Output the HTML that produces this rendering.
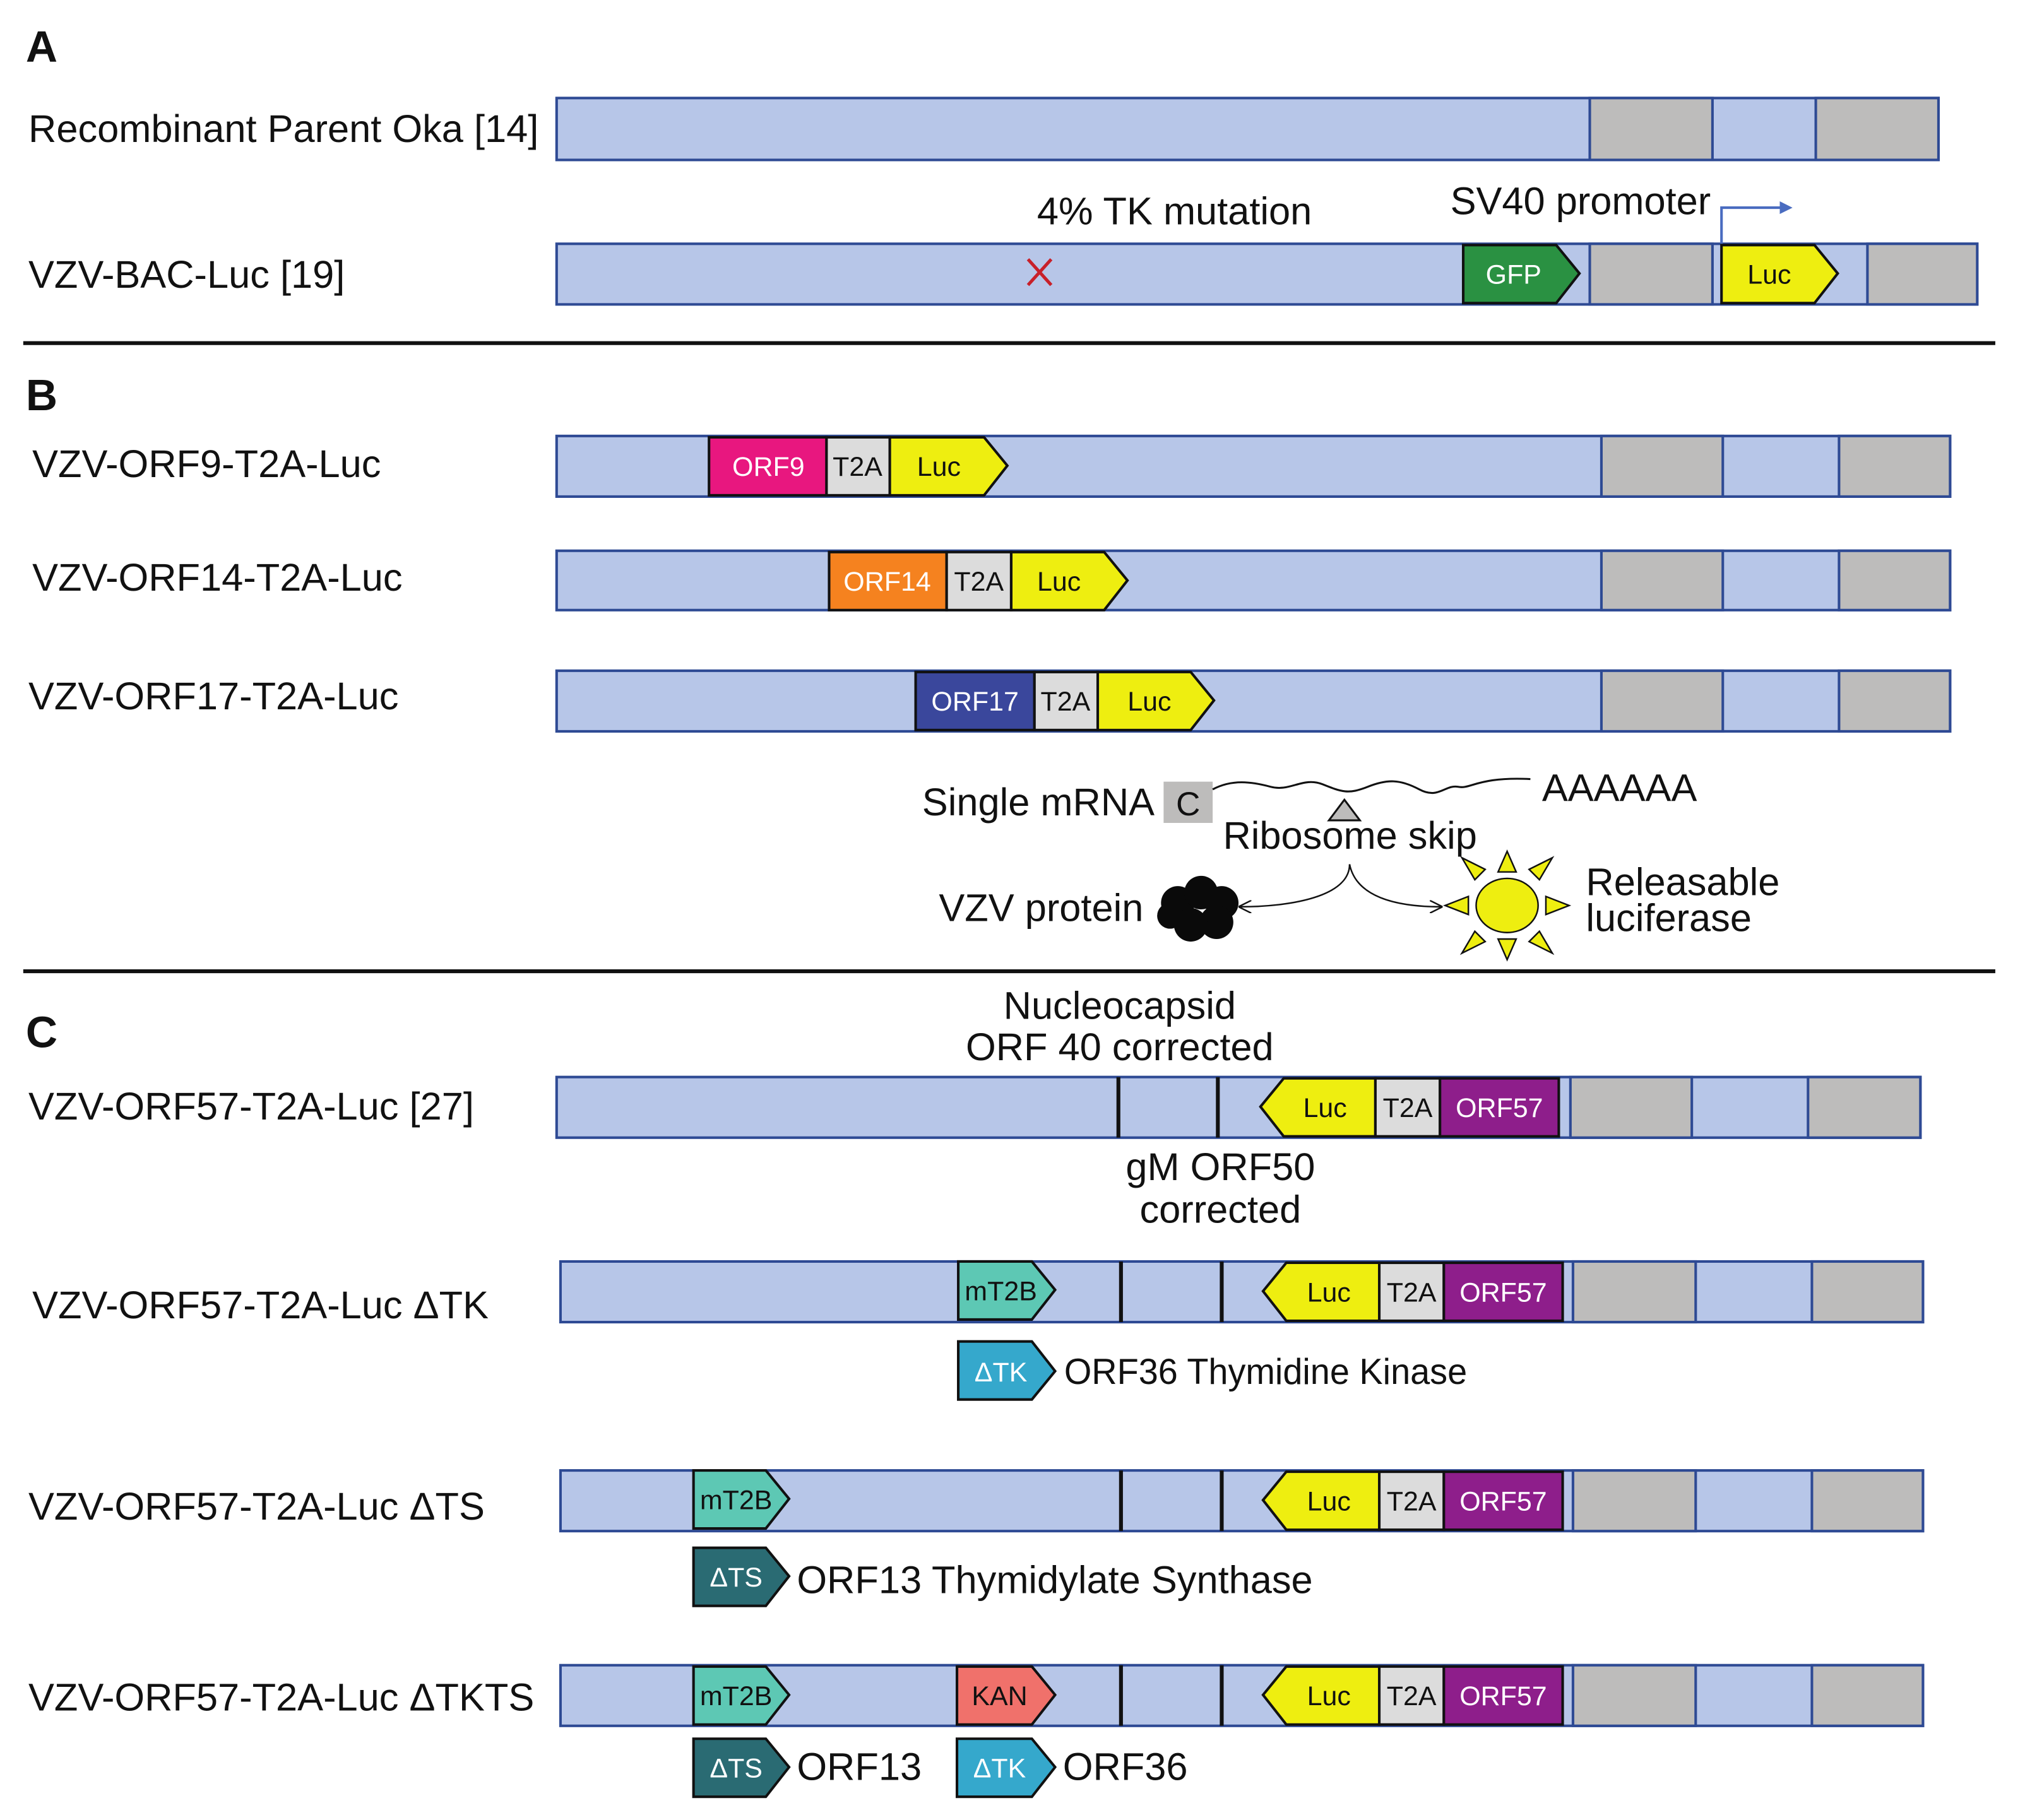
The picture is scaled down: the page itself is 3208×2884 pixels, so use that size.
<!DOCTYPE html>
<html><head><meta charset="utf-8"><style>html,body{margin:0;padding:0;background:#fff}svg{display:block}text{font-family:"Liberation Sans",sans-serif;fill:#111}</style></head><body>
<svg width="3208" height="2884" viewBox="0 0 1568 1411" preserveAspectRatio="none" xmlns="http://www.w3.org/2000/svg">
<defs>
<marker id="ah" markerWidth="10" markerHeight="10" refX="9" refY="5" orient="auto" markerUnits="userSpaceOnUse"><path d="M0,0 L10,5 L0,10" fill="none" stroke="#111" stroke-width="1.2"/></marker>
<marker id="bh" markerWidth="10" markerHeight="10" refX="8" refY="5" orient="auto" markerUnits="userSpaceOnUse"><path d="M0,0 L10,5 L0,10 z" fill="#4a6cc0"/></marker>
</defs>
<g stroke="#2e4a94" stroke-width="2">
<rect x="431" y="76" width="1070" height="48" fill="#b7c6e8"/>
<rect x="1231" y="76" width="95" height="48" fill="#bdbcbb"/>
<rect x="1406" y="76" width="95" height="48" fill="#bdbcbb"/>
<rect x="431" y="189" width="1100" height="47" fill="#b7c6e8"/>
<rect x="1231" y="189" width="95" height="47" fill="#bdbcbb"/>
<rect x="1446" y="189" width="85" height="47" fill="#bdbcbb"/>
<rect x="431" y="338" width="1079" height="47" fill="#b7c6e8"/>
<rect x="1240" y="338" width="94" height="47" fill="#bdbcbb"/>
<rect x="1424" y="338" width="86" height="47" fill="#bdbcbb"/>
<rect x="431" y="427" width="1079" height="46" fill="#b7c6e8"/>
<rect x="1240" y="427" width="94" height="46" fill="#bdbcbb"/>
<rect x="1424" y="427" width="86" height="46" fill="#bdbcbb"/>
<rect x="431" y="520" width="1079" height="47" fill="#b7c6e8"/>
<rect x="1240" y="520" width="94" height="47" fill="#bdbcbb"/>
<rect x="1424" y="520" width="86" height="47" fill="#bdbcbb"/>
<rect x="431" y="835" width="1056" height="47" fill="#b7c6e8"/>
<rect x="1216" y="835" width="94" height="47" fill="#bdbcbb"/>
<rect x="1400" y="835" width="87" height="47" fill="#bdbcbb"/>
<rect x="434" y="978" width="1055" height="47" fill="#b7c6e8"/>
<rect x="1218" y="978" width="95" height="47" fill="#bdbcbb"/>
<rect x="1403" y="978" width="86" height="47" fill="#bdbcbb"/>
<rect x="434" y="1140" width="1055" height="47" fill="#b7c6e8"/>
<rect x="1218" y="1140" width="95" height="47" fill="#bdbcbb"/>
<rect x="1403" y="1140" width="86" height="47" fill="#bdbcbb"/>
<rect x="434" y="1291" width="1055" height="47" fill="#b7c6e8"/>
<rect x="1218" y="1291" width="95" height="47" fill="#bdbcbb"/>
<rect x="1403" y="1291" width="86" height="47" fill="#bdbcbb"/>
</g>
<g stroke="#111" stroke-width="2">
<polygon points="1133,190 1205,190 1223,212 1205,235 1133,235" fill="#2a9142"/>
<polygon points="1333,190 1405,190 1423,212 1405,235 1333,235" fill="#eeee10"/>
<rect x="549" y="339" width="91" height="45" fill="#e8177f"/>
<rect x="640" y="339" width="49" height="45" fill="#dcdcdc"/>
<polygon points="689,339 762,339 780,361 762,384 689,384" fill="#eeee10"/>
<rect x="642" y="428" width="91" height="45" fill="#f5821f"/>
<rect x="733" y="428" width="50" height="45" fill="#dcdcdc"/>
<polygon points="783,428 855,428 873,450 855,473 783,473" fill="#eeee10"/>
<rect x="709" y="521" width="92" height="45" fill="#3a479c"/>
<rect x="801" y="521" width="49" height="45" fill="#dcdcdc"/>
<polygon points="850,521 922,521 940,543 922,566 850,566" fill="#eeee10"/>
<polygon points="976,858 994,836 1065,836 1065,881 994,881" fill="#eeee10"/>
<rect x="1065" y="836" width="50" height="45" fill="#dcdcdc"/>
<rect x="1115" y="836" width="92" height="45" fill="#8e1e8b"/>
<polygon points="742,978 799,978 817,1000 799,1023 742,1023" fill="#5dc8b4"/>
<polygon points="978,1001 996,979 1068,979 1068,1024 996,1024" fill="#eeee10"/>
<rect x="1068" y="979" width="50" height="45" fill="#dcdcdc"/>
<rect x="1118" y="979" width="92" height="45" fill="#8e1e8b"/>
<polygon points="742,1040 799,1040 817,1063 799,1085 742,1085" fill="#35a8cc"/>
<polygon points="537,1140 593,1140 611,1162 593,1185 537,1185" fill="#5dc8b4"/>
<polygon points="978,1163 996,1141 1068,1141 1068,1186 996,1186" fill="#eeee10"/>
<rect x="1068" y="1141" width="50" height="45" fill="#dcdcdc"/>
<rect x="1118" y="1141" width="92" height="45" fill="#8e1e8b"/>
<polygon points="537,1200 593,1200 611,1222 593,1245 537,1245" fill="#2a6b73"/>
<polygon points="537,1292 593,1292 611,1314 593,1337 537,1337" fill="#5dc8b4"/>
<polygon points="741,1292 799,1292 817,1314 799,1337 741,1337" fill="#f0716b"/>
<polygon points="978,1314 996,1292 1068,1292 1068,1337 996,1337" fill="#eeee10"/>
<rect x="1068" y="1292" width="50" height="45" fill="#dcdcdc"/>
<rect x="1118" y="1292" width="92" height="45" fill="#8e1e8b"/>
<polygon points="537,1348 593,1348 611,1370 593,1393 537,1393" fill="#2a6b73"/>
<polygon points="741,1348 799,1348 817,1370 799,1393 741,1393" fill="#35a8cc"/>
</g>
<g stroke="#111" stroke-width="3">
<line x1="866" y1="835" x2="866" y2="882"/><line x1="943" y1="835" x2="943" y2="882"/>
<line x1="868" y1="978" x2="868" y2="1025"/><line x1="946" y1="978" x2="946" y2="1025"/>
<line x1="868" y1="1140" x2="868" y2="1187"/><line x1="946" y1="1140" x2="946" y2="1187"/>
<line x1="868" y1="1291" x2="868" y2="1338"/><line x1="946" y1="1291" x2="946" y2="1338"/>
<line x1="18" y1="266" x2="1545" y2="266"/>
<line x1="18" y1="753" x2="1545" y2="753"/>
</g>
<g stroke="#c8202a" stroke-width="2.5"><line x1="796" y1="201" x2="814" y2="221"/><line x1="814" y1="201" x2="796" y2="221"/></g>
<path d="M1333,189 L1333,161 L1386,161" fill="none" stroke="#4a6cc0" stroke-width="2" marker-end="url(#bh)"/>
<rect x="901" y="606" width="38" height="32" fill="#bdbcbb"/>
<path d="M939,612 c15,-8 30,-6 45,-2 s25,-8 40,-2 s20,8 35,2 s25,-6 40,2 s20,-4 30,-2 s15,-8 56,-6" fill="none" stroke="#111" stroke-width="1.5"/>
<polygon points="1041,620 1029,636 1053,636" fill="#bdbcbb" stroke="#111" stroke-width="1.5"/>
<path d="M1045,670 C1045,695 1000,703 960,703" fill="none" stroke="#111" stroke-width="1.2" marker-end="url(#ah)"/>
<path d="M1045,670 C1050,695 1080,703 1116,703" fill="none" stroke="#111" stroke-width="1.2" marker-end="url(#ah)"/>
<g fill="#0a0a0a"><circle cx="912" cy="700" r="13"/><circle cx="930" cy="692" r="13"/><circle cx="946" cy="700" r="13"/><circle cx="942" cy="715" r="13"/><circle cx="922" cy="717" r="13"/><circle cx="906" cy="710" r="10"/></g>
<g fill="#eeee10" stroke="#111" stroke-width="1.2">
<ellipse cx="1167" cy="702" rx="24" ry="21"/>
<polygon points="1160,676 1174,676 1167,660"/><polygon points="1160,728 1174,728 1167,744"/>
<polygon points="1137,695 1137,709 1119,702"/><polygon points="1197,695 1197,709 1215,702"/>
<polygon points="1142,682 1150,674 1132,665"/><polygon points="1184,674 1192,682 1202,665"/>
<polygon points="1142,722 1150,730 1132,739"/><polygon points="1184,730 1192,722 1202,739"/>
</g>
<g font-size="30">
<text x="20" y="48" font-size="34" font-weight="bold">A</text>
<text x="20" y="318" font-size="34" font-weight="bold">B</text>
<text x="20" y="812" font-size="34" font-weight="bold">C</text>
<text x="22" y="110">Recombinant Parent Oka [14]</text>
<text x="22" y="223">VZV-BAC-Luc [19]</text>
<text x="803" y="174">4% TK mutation</text>
<text x="1123" y="166">SV40 promoter</text>
<text x="25" y="370">VZV-ORF9-T2A-Luc</text>
<text x="25" y="458">VZV-ORF14-T2A-Luc</text>
<text x="22" y="550">VZV-ORF17-T2A-Luc</text>
<text x="714" y="632">Single mRNA</text>
<text x="1194" y="621">AAAAAA</text>
<text x="947" y="658">Ribosome skip</text>
<text x="727" y="714">VZV protein</text>
<text x="1228" y="694">Releasable</text>
<text x="1228" y="722">luciferase</text>
<text x="867" y="790" text-anchor="middle">Nucleocapsid</text>
<text x="867" y="822" text-anchor="middle">ORF 40 corrected</text>
<text x="945" y="915" text-anchor="middle">gM ORF50</text>
<text x="945" y="948" text-anchor="middle">corrected</text>
<text x="22" y="868">VZV-ORF57-T2A-Luc [27]</text>
<text x="25" y="1022">VZV-ORF57-T2A-Luc ΔTK</text>
<text x="22" y="1178">VZV-ORF57-T2A-Luc ΔTS</text>
<text x="22" y="1326">VZV-ORF57-T2A-Luc ΔTKTS</text>
<text x="824" y="1073" font-size="28" textLength="312" lengthAdjust="spacingAndGlyphs">ORF36 Thymidine Kinase</text>
<text x="617" y="1235">ORF13 Thymidylate Synthase</text>
<text x="617" y="1380">ORF13</text>
<text x="823" y="1380">ORF36</text>
<text x="920" y="632" text-anchor="middle" font-size="26">C</text>
</g>
<g font-size="21" text-anchor="middle">
<text x="1172" y="220" style="fill:#fff">GFP</text>
<text x="1370" y="220">Luc</text>
<text x="595" y="369" style="fill:#fff">ORF9</text><text x="664" y="369">T2A</text><text x="727" y="369">Luc</text>
<text x="687" y="458" style="fill:#fff">ORF14</text><text x="758" y="458">T2A</text><text x="820" y="458">Luc</text>
<text x="755" y="551" style="fill:#fff">ORF17</text><text x="825" y="551">T2A</text><text x="890" y="551">Luc</text>
<text x="1026" y="866">Luc</text><text x="1090" y="866">T2A</text><text x="1161" y="866" style="fill:#fff">ORF57</text>
<text x="1029" y="1009">Luc</text><text x="1093" y="1009">T2A</text><text x="1164" y="1009" style="fill:#fff">ORF57</text>
<text x="1029" y="1171">Luc</text><text x="1093" y="1171">T2A</text><text x="1164" y="1171" style="fill:#fff">ORF57</text>
<text x="1029" y="1322">Luc</text><text x="1093" y="1322">T2A</text><text x="1164" y="1322" style="fill:#fff">ORF57</text>
<text x="775" y="1008">mT2B</text>
<text x="570" y="1170">mT2B</text>
<text x="570" y="1322">mT2B</text>
<text x="774" y="1322">KAN</text>
<text x="775" y="1071" style="fill:#fff">ΔTK</text>
<text x="570" y="1230" style="fill:#fff">ΔTS</text>
<text x="570" y="1378" style="fill:#fff">ΔTS</text>
<text x="774" y="1378" style="fill:#fff">ΔTK</text>
</g>
</svg>
</body></html>
